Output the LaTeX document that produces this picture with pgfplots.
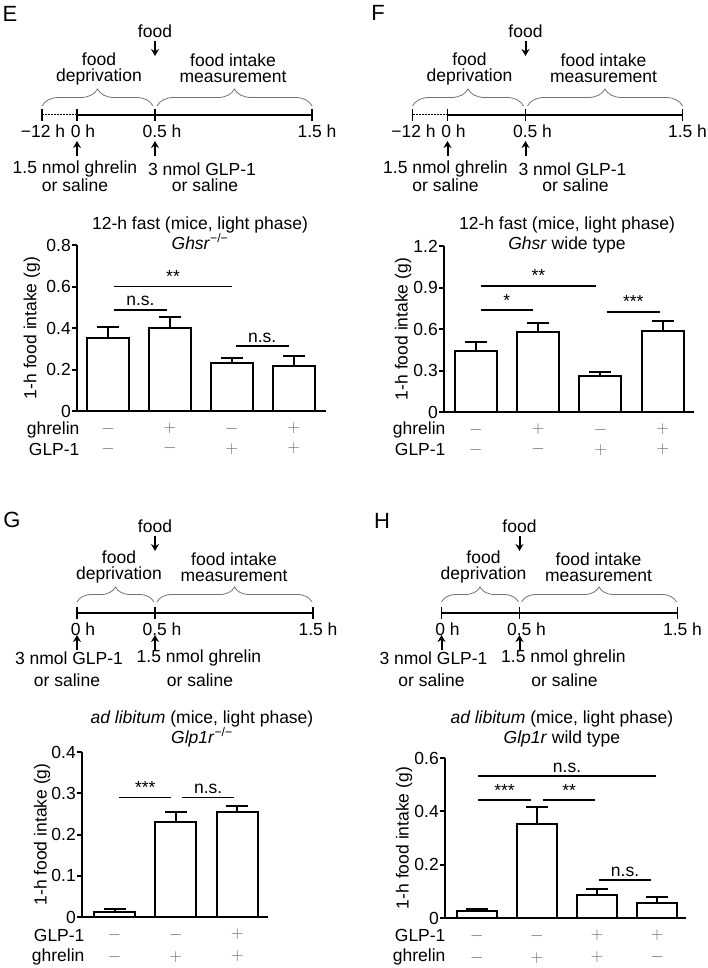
\documentclass[border=0pt]{standalone}
\usepackage{fontspec}
\setmainfont{Liberation Sans}
\usepackage{pgfplots}
\pgfplotsset{compat=1.18}
\usetikzlibrary{arrows.meta,decorations.pathreplacing}

\newcommand\fs{\fontsize{17.5}{20}\selectfont}
\newcommand\fstight{\fontsize{17.5}{16}\selectfont}

\tikzset{
  tl/.style={line width=1.6pt},
  arr/.style={line width=2pt,-{Stealth[length=7pt,width=8pt]}},
  brc/.style={decorate,decoration={brace,amplitude=#1},draw=black!55,line width=0.8pt},
  sig/.style={line width=1.6pt},
  sigtxt/.style={anchor=base,yshift=4pt,font=\fs,inner sep=0pt},
}

\pgfplotsset{
  barpanel/.style={
    scale only axis,
    axis x line*=bottom, axis y line*=left,
    axis line style={line width=2pt},
    ymin=0,
    xtick=data,
    xtick style={draw=none},
    ytick style={line width=2pt,black},
    tick align=outside,
    major tick length=5pt,
    tick label style={font=\fs},
    /pgf/number format/assume math mode=true,
    yticklabel style={inner sep=1pt},
    xticklabel style={align=center,anchor=north,inner sep=0pt,yshift=-7pt,text=black!60},
    ylabel={1-h food intake (g)},
    ylabel style={font=\fs,anchor=center},
    title style={font=\fs,align=center,anchor=base},
    ybar, bar width=42pt,
    clip=false,
  },
  bars/.style={draw=black,fill=white,line width=2pt,
    error bars/.cd, y dir=plus, y explicit,
    error bar style={line width=2pt,black},
    error mark options={rotate=90,mark size=11pt,line width=2pt,black}},
}

% timeline used in E and F
\newcommand\timelineA{%
  \draw[line width=1pt,dash pattern=on 2pt off 1pt] (42,115) -- (77,115);
  \draw[tl] (77,115) -- (312,115);
  \foreach \x in {42,77,155,312} \draw[tl] (\x,109) -- (\x,121);
  \node at (43,131) {−12 h};
  \node at (83,131) {0 h};
  \node at (162,131) {0.5 h};
  \node at (317,131) {1.5 h};
  \draw[brc=17pt] (42,106) -- (153,106);
  \draw[brc=17pt] (157,106) -- (312,106);
  \node at (155,31) {food};
  \draw[arr] (155,41) -- (155,56);
  \node[align=center,font=\fstight] at (99,69) {food\\deprivation};
  \node[align=center,font=\fstight] at (233,68) {food intake\\measurement};
  \draw[arr] (77,156) -- (77,141);
  \draw[arr] (155,156) -- (155,141);
  \node at (75,169) {1.5 nmol ghrelin};
  \node at (75,185) {or saline};
  \node at (202,169) {3 nmol GLP-1};
  \node at (205,185) {or saline};
}
% timeline used in G and H
\newcommand\timelineB{%
  \draw[tl] (77,613) -- (313,613);
  \foreach \x in {77,155,313} \draw[tl] (\x,607) -- (\x,619);
  \node at (83,629) {0 h};
  \node at (162,629) {0.5 h};
  \node at (318,629) {1.5 h};
  \draw[brc=15pt] (77,602) -- (154,602);
  \draw[brc=15pt] (157,602) -- (312,602);
  \node at (155,526) {food};
  \draw[arr] (155,536) -- (155,551);
  \node[align=center,font=\fstight] at (119,567) {food\\deprivation};
  \node[align=center,font=\fstight] at (234,567) {food intake\\measurement};
  \draw[arr] (77,650) -- (77,635);
  \draw[arr] (155,650) -- (155,635);
  \node at (69,658) {3 nmol GLP-1};
  \node at (67,680) {or saline};
  \node at (199,658) {1.5 nmol ghrelin};
  \node at (200,680) {or saline};
}

\begin{document}
\begin{tikzpicture}
\begin{scope}[x=1pt,y=-1pt,font=\fs]
  \useasboundingbox (0,0) rectangle (708,968);
  \node[font=\fontsize{22}{22}\selectfont] at (10,14) {E};
  \node[font=\fontsize{22}{22}\selectfont] at (378,13) {F};
  \node[font=\fontsize{22}{22}\selectfont] at (12,520) {G};
  \node[font=\fontsize{22}{22}\selectfont] at (382,521) {H};
  \timelineA
  \begin{scope}[xshift=370.5pt]\timelineA\end{scope}
  \timelineB
  \begin{scope}[xshift=364.5pt]\timelineB\end{scope}
  % row names under the bar charts
  \node[anchor=east,inner ysep=1pt] at (83,430) {ghrelin};
  \node[anchor=east,inner ysep=1pt] at (83,449) {GLP-1};
  \node[anchor=east,inner ysep=1pt] at (449,430) {ghrelin};
  \node[anchor=east,inner ysep=1pt] at (449,449) {GLP-1};
  \node[anchor=east,inner ysep=1pt] at (88,935) {GLP-1};
  \node[anchor=east,inner ysep=1pt] at (88,957) {ghrelin};
  \node[anchor=east,inner ysep=1pt] at (449,935) {GLP-1};
  \node[anchor=east,inner ysep=1pt] at (449,957) {ghrelin};
\end{scope}

% ---- E ----
\begin{axis}[barpanel,
  at={(77pt,-411pt)}, anchor=south west,
  width=249pt, height=166pt,
  xmin=-0.5, xmax=3.52, ymax=0.8,
  ytick={0,0.2,0.4,0.6,0.8},
  xticklabels={{$-$\\$-$},{$+$\\$-$},{$-$\\$+$},{$+$\\$+$}},
  xticklabel style={font=\fontsize{17.5}{20}\selectfont},
  ylabel style={at={(axis description cs:-0.181,0.5)}},
  title={12-h fast (mice, light phase)\\\textit{Ghsr}\textsuperscript{−/−}},
  title style={at={(axis description cs:0.494,1)},yshift=-10pt},
]
\addplot[bars] coordinates {(0,0.35) +- (0,0.053) (1,0.40) +- (0,0.053) (2,0.23) +- (0,0.025) (3,0.218) +- (0,0.046)};
\draw[sig] (axis cs:0.1,0.6) -- (axis cs:2.0,0.6) node[midway,sigtxt] {**};
\draw[sig] (axis cs:0.1,0.487) -- (axis cs:0.95,0.487) node[midway,sigtxt] {n.s.};
\draw[sig] (axis cs:2.06,0.313) -- (axis cs:2.92,0.313) node[midway,sigtxt] {n.s.};
\end{axis}

% ---- F ----
\begin{axis}[barpanel,
  at={(444pt,-412pt)}, anchor=south west,
  width=250pt, height=166pt,
  xmin=-0.51, xmax=3.5, ymax=1.2,
  ytick={0,0.3,0.6,0.9,1.2},
  xticklabels={{$-$\\$-$},{$+$\\$-$},{$-$\\$+$},{$+$\\$+$}},
  xticklabel style={font=\fontsize{17.5}{20}\selectfont},
  ylabel style={at={(axis description cs:-0.164,0.5)}},
  title={12-h fast (mice, light phase)\\\textit{Ghsr} wide type},
  title style={at={(axis description cs:0.492,1)},yshift=-9pt},
]
\addplot[bars] coordinates {(0,0.443) +- (0,0.061) (1,0.576) +- (0,0.07) (2,0.263) +- (0,0.029) (3,0.586) +- (0,0.074)};
\draw[sig] (axis cs:0.08,0.911) -- (axis cs:1.93,0.911) node[midway,sigtxt] {**};
\draw[sig] (axis cs:0.08,0.737) -- (axis cs:0.915,0.737) node[midway,sigtxt] {*};
\draw[sig] (axis cs:2.10,0.725) -- (axis cs:2.95,0.725) node[midway,sigtxt] {***};
\end{axis}

% ---- G ----
\begin{axis}[barpanel,
  at={(82pt,-917pt)}, anchor=south west,
  width=186pt, height=165pt,
  xmin=-0.53, xmax=2.5, ymax=0.4,
  bar width=41pt,
  ytick={0,0.1,0.2,0.3,0.4},
  xticklabels={{$-$\\$-$},{$-$\\$+$},{$+$\\$+$}},
  xticklabel style={font=\fontsize{17.5}{22}\selectfont},
  ylabel style={at={(axis description cs:-0.215,0.5)}},
  title={\textit{ad libitum} (mice, light phase)\\\textit{Glp1r}\textsuperscript{−/−}},
  title style={at={(axis description cs:0.645,1)},yshift=3pt},
]
\addplot[bars] coordinates {(0,0.013) +- (0,0.006) (1,0.231) +- (0,0.024) (2,0.254) +- (0,0.016)};
\draw[sig] (axis cs:0.08,0.29) -- (axis cs:0.92,0.29) node[midway,sigtxt] {***};
\draw[sig] (axis cs:1.10,0.29) -- (axis cs:1.95,0.29) node[midway,sigtxt] {n.s.};
\end{axis}

% ---- H ----
\begin{axis}[barpanel,
  at={(445pt,-918pt)}, anchor=south west,
  width=241pt, height=160pt,
  xmin=-0.53, xmax=3.48, ymax=0.6,
  bar width=40pt,
  ytick={0,0.2,0.4,0.6},
  xticklabels={{$-$\\$-$},{$-$\\$+$},{$+$\\$+$},{$+$\\$-$}},
  xticklabel style={font=\fontsize{17.5}{22}\selectfont},
  ylabel style={at={(axis description cs:-0.17,0.5)}},
  title={\textit{ad libitum} (mice, light phase)\\\textit{Glp1r} wild type},
  title style={at={(axis description cs:0.485,1)},yshift=9pt},
]
\addplot[bars] coordinates {(0,0.0275) +- (0,0.0065) (1,0.3525) +- (0,0.065) (2,0.085) +- (0,0.025) (3,0.057) +- (0,0.021)};
\draw[sig] (axis cs:0.02,0.532) -- (axis cs:2.98,0.532) node[midway,sigtxt] {n.s.};
\draw[sig] (axis cs:0.02,0.4425) -- (axis cs:0.9,0.4425) node[midway,sigtxt] {***};
\draw[sig] (axis cs:1.1,0.4425) -- (axis cs:1.97,0.4425) node[midway,sigtxt] {**};
\draw[sig] (axis cs:2.03,0.1425) -- (axis cs:2.9,0.1425) node[midway,sigtxt] {n.s.};
\end{axis}
\end{tikzpicture}
\end{document}
